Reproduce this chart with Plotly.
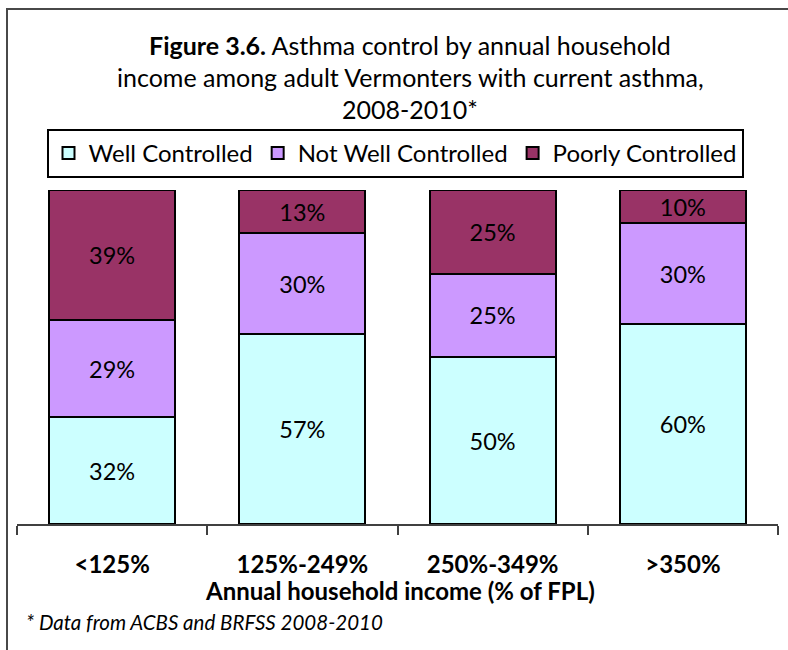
import plotly.graph_objects as go

# income groups (% of federal poverty level)
income_groups = ["<125%", "125%-249%", "250%-349%", ">350%"]

well_controlled = [32, 57, 50, 60]
not_well_controlled = [29, 30, 25, 30]
poorly_controlled = [39, 13, 25, 10]

series = [
    ("Well Controlled", well_controlled, "#CCFFFF"),
    ("Not Well Controlled", not_well_controlled, "#CC99FF"),
    ("Poorly Controlled", poorly_controlled, "#993366"),
]

FONT = "Lato"

fig = go.Figure()
for name, vals, color in series:
    fig.add_trace(go.Bar(
        x=income_groups, y=vals, name=name,
        marker=dict(color=color, line=dict(color="black", width=2)),
        text=[f"{v}%" for v in vals], textposition="inside",
        insidetextanchor="middle", textangle=0, constraintext="none",
        textfont=dict(family=FONT, size=23.5, color="black"),
    ))

# plot area runs from y=190px (paper 1) to y=524px (paper 0)
def py(pix):
    return (524 - pix) / 334

def px_(pix):
    return (pix - 17) / 761

title_lines = [
    ("<b>Figure 3.6.</b> Asthma control by annual household", 45),
    ("income among adult Vermonters with current asthma,", 77),
    ("2008-2010*", 109),
]
annotations = [
    dict(text=t, x=px_(410), y=py(yp), xref="paper", yref="paper",
         xanchor="center", yanchor="middle", showarrow=False,
         font=dict(family=FONT, size=25, color="black"))
    for t, yp in title_lines
]
annotations.append(dict(
    text="<b>Annual household income (% of FPL)</b>", x=px_(400), y=py(590),
    xref="paper", yref="paper", xanchor="center", yanchor="middle",
    showarrow=False, font=dict(family=FONT, size=24, color="black")))
annotations.append(dict(
    text="<i>* Data from ACBS and BRFSS 2008-2010</i>", x=px_(24), y=py(622),
    xref="paper", yref="paper", xanchor="left", yanchor="middle",
    showarrow=False, font=dict(family=FONT, size=20.5, color="black")))

fig.update_layout(
    width=788, height=650,
    barmode="stack", bargap=0.337,
    paper_bgcolor="white", plot_bgcolor="white",
    margin=dict(l=17, r=10, t=190, b=126),
    font=dict(family=FONT, size=22, color="black"),
    showlegend=True,
    legend=dict(orientation="h", x=px_(395), y=py(129),
                xanchor="center", yanchor="top", traceorder="normal",
                bordercolor="black", borderwidth=2, bgcolor="white",
                font=dict(family=FONT, size=24), itemwidth=30),
    annotations=annotations,
    # outer frame, its right and bottom edges fall outside the picture
    shapes=[dict(type="rect", xref="paper", yref="paper",
                 x0=px_(7), x1=2, y0=py(9), y1=-1,
                 line=dict(color="#484848", width=2))],
)
fig.update_xaxes(
    showline=True, linecolor="#404040", linewidth=2,
    ticks="outside", tickson="boundaries", ticklen=9, tickwidth=2,
    tickcolor="#404040", ticklabelstandoff=18,
    tickfont=dict(family=FONT, size=24, color="black"),
    tickprefix="<b>", ticksuffix="</b>", showgrid=False,
)
fig.update_yaxes(range=[0, 100], visible=False)

fig.write_html("out.html", config={"displayModeBar": False},
               post_script="document.body.style.margin='0px';")
